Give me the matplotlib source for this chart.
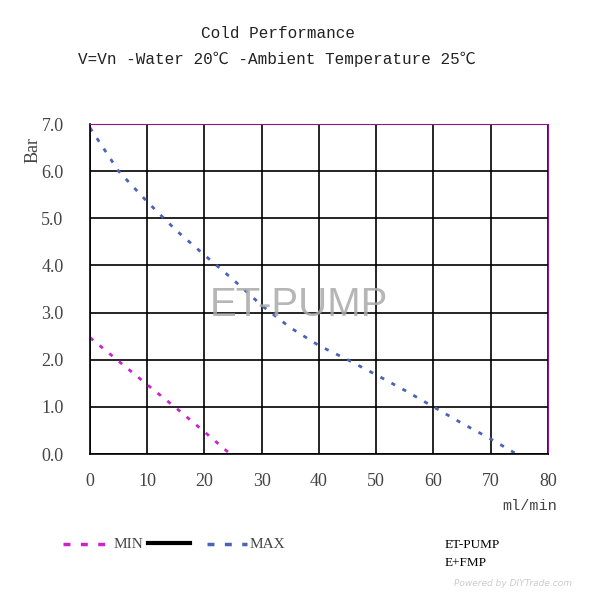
import matplotlib
matplotlib.use("Agg")
import matplotlib.pyplot as plt
from matplotlib.lines import Line2D

# Data
max_flow = [0, 5, 10, 15, 20, 25, 30, 35, 40, 45, 50, 55, 60, 65, 70, 74.5]
max_bar = [6.92, 6.0, 5.35, 4.75, 4.22, 3.7, 3.15, 2.68, 2.3, 2.0, 1.68, 1.35, 1.0, 0.65, 0.32, 0.0]
min_flow = [0, 5, 10, 15, 20, 24.5]
min_bar = [2.47, 1.97, 1.47, 0.98, 0.47, 0.0]
x_ticks = [0, 10, 20, 30, 40, 50, 60, 70, 80]
y_ticks = [0.0, 1.0, 2.0, 3.0, 4.0, 5.0, 6.0, 7.0]

FONT = ['Liberation Serif', 'Noto Sans CJK SC', 'DejaVu Sans']
MONO = ['Liberation Mono', 'DejaVu Sans Mono', 'Noto Sans CJK SC']
BLUE = '#4a63b8'
MAG = '#cc22cc'
TXT = '#444444'

fig = plt.figure(figsize=(6, 6), dpi=100)
ax = fig.add_axes([0.15, 0.2433, 0.7633, 0.55])

ax.plot(max_flow, max_bar, color=BLUE, lw=2, linestyle=(0, (1.5, 3)))
ax.plot(min_flow, min_bar, color=MAG, lw=2, linestyle=(0, (1.5, 3)))

ax.set_xlim(0, 80)
ax.set_ylim(0, 7)
ax.set_xticks(x_ticks)
ax.set_yticks(y_ticks)
ax.set_xticklabels([str(v) for v in x_ticks], family=FONT, fontsize=13, color=TXT)
ax.set_yticklabels([f"{v:.1f}" for v in y_ticks], family=FONT, fontsize=13, color=TXT)
ax.tick_params(length=0, pad=14)
ax.tick_params(axis='y', pad=19)
ax.grid(True, color='black', lw=1.2)
ax.set_axisbelow(True)
for s in ['left', 'bottom']:
    ax.spines[s].set_color('black')
    ax.spines[s].set_linewidth(1.2)
for s in ['top', 'right']:
    ax.spines[s].set_color('#8a1a8a')

fig.text(33 / 600, 1 - 150 / 600, 'Bar', rotation=90, family=FONT, fontsize=13,
         ha='center', va='center', color=TXT)
fig.text(530 / 600, 1 - 506 / 600, 'ml/min', family=MONO, fontsize=11,
         ha='center', va='center', color=TXT)

fig.text(278 / 600, 1 - 33 / 600, 'Cold Performance', family=MONO, fontsize=11.5,
         ha='center', va='center', color='#222222')
fig.text(277 / 600, 1 - 59 / 600, 'V=Vn -Water 20℃ -Ambient Temperature 25℃', family=MONO,
         fontsize=11.5, ha='center', va='center', color='#222222')

ax.text(0.456, 0.452, 'ET-PUMP', transform=ax.transAxes, family=['Liberation Sans'],
        fontsize=29, color='#aaaaaa', alpha=0.85, ha='center', va='center')

# Legend drawn below
def legline(x0, x1, y, **kw):
    fig.add_artist(Line2D([x0 / 600, x1 / 600], [1 - y / 600, 1 - y / 600], **kw))

legline(63, 111, 544, color=MAG, lw=2.5, linestyle=(0, (2, 3)))
fig.text(114 / 600, 1 - 544 / 600, 'MIN', family=FONT, fontsize=11, va='center', color=TXT)
legline(148, 190, 543, color='black', lw=3)
legline(207, 247, 544, color=BLUE, lw=2.5, linestyle=(0, (2, 3)))
fig.text(250 / 600, 1 - 544 / 600, 'MAX', family=FONT, fontsize=11, va='center', color=TXT)

fig.text(445 / 600, 1 - 545 / 600, 'ET-PUMP', family=FONT, fontsize=9.5, va='center', color='black')
fig.text(445 / 600, 1 - 563 / 600, 'E+FMP', family=FONT, fontsize=9.5, va='center', color='black')
fig.text(572 / 600, 1 - 583 / 600, 'Powered by DIYTrade.com', family=['DejaVu Sans'], style='italic',
         fontsize=6.5, ha='right', va='center', color='#cccccc')

fig.savefig('out.png', dpi=100)
